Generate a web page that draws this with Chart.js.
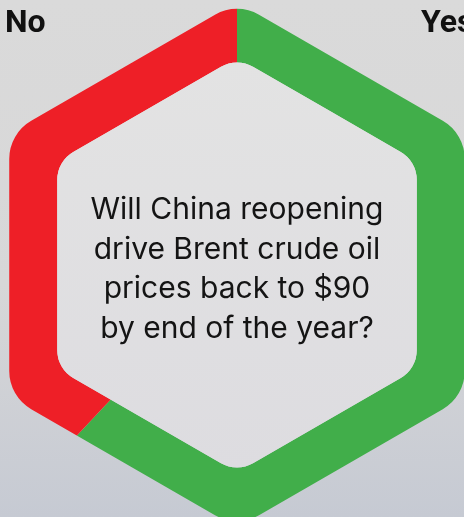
<!DOCTYPE html>
<html>
<head>
<meta charset="utf-8">
<script src="https://cdn.jsdelivr.net/npm/chart.js@4.4.0/dist/chart.umd.min.js"></script>
<style>
    html, body { margin: 0; padding: 0; }
    body {
        width: 464px; height: 517px; overflow: hidden; position: relative;
        background: linear-gradient(#dadada 0%, #d7d7d8 55%, #c6cad3 100%);
        font-family: Roboto, "Open Sans", sans-serif;
    }
    #poll { position: absolute; left: -63px; top: -35px; }
    .side { position: absolute; top: 2px; font-size: 32px; font-weight: 700; color: #111; }
    #question {
        position: absolute; left: 32px; width: 410px; top: 189px;
        text-align: center; font-family: Inter, Roboto, sans-serif;
        font-size: 30px; line-height: 39.5px; color: #141414;
    }
</style>
</head>
<body>
<canvas id="poll" width="600" height="600"></canvas>
<div class="side" style="left:5px">No</div>
<div class="side" style="left:421px">Yes</div>
<div id="question">Will China reopening<br>drive Brent crude oil<br>prices back to $90<br>by end of the year?</div>

<script>
    // poll result, percent of answers
    const answers = ['Yes', 'No'];
    const shares = [62, 38];
    const colours = ['#41ae4a', '#ee1f27'];

    // outer hexagon radius, ring width and corner radii (px)
    const hexR = 263, ring = 48, outerCorner = 44, innerCorner = 32;

    function hexPath(ctx, cx, cy, r, corner) {
        const pts = [];
        for (let i = 0; i < 6; i++) {
            const a = -Math.PI / 2 + i * Math.PI / 3;
            pts.push([cx + r * Math.cos(a), cy + r * Math.sin(a)]);
        }
        const m0 = [(pts[0][0] + pts[1][0]) / 2, (pts[0][1] + pts[1][1]) / 2];
        ctx.moveTo(m0[0], m0[1]);
        for (let i = 1; i <= 6; i++) {
            const p = pts[i % 6], n = pts[(i + 1) % 6];
            ctx.arcTo(p[0], p[1], n[0], n[1], corner);
        }
        ctx.closePath();
    }

    const hexRing = {
        id: 'hexRing',
        beforeDatasetsDraw(chart) {
            const arc = chart.getDatasetMeta(0).data[0];
            const ctx = chart.ctx;
            const innerR = hexR - ring / Math.cos(Math.PI / 6);
            ctx.save();
            ctx.beginPath();
            hexPath(ctx, arc.x, arc.y, hexR, outerCorner);
            hexPath(ctx, arc.x, arc.y, innerR, innerCorner);
            ctx.clip('evenodd');
        },
        afterDatasetsDraw(chart) {
            const arc = chart.getDatasetMeta(0).data[0];
            const ctx = chart.ctx;
            ctx.restore();
            const innerR = hexR - ring / Math.cos(Math.PI / 6);
            ctx.save();
            const g = ctx.createLinearGradient(0, arc.y - innerR, 0, arc.y + innerR);
            g.addColorStop(0, '#e3e3e3');
            g.addColorStop(1, '#dddce0');
            ctx.fillStyle = g;
            ctx.beginPath();
            hexPath(ctx, arc.x, arc.y, innerR, innerCorner);
            ctx.fill();
            ctx.restore();
        }
    };

    new Chart(document.getElementById('poll'), {
        type: 'pie',
        data: {
            labels: answers,
            datasets: [{
                data: shares,
                backgroundColor: colours,
                borderWidth: 0
            }]
        },
        options: {
            responsive: false,
            animation: false,
            layout: {padding: 0},
            plugins: {legend: {display: false}, tooltip: {enabled: false}}
        },
        plugins: [hexRing]
    });
</script>
</body>
</html>
